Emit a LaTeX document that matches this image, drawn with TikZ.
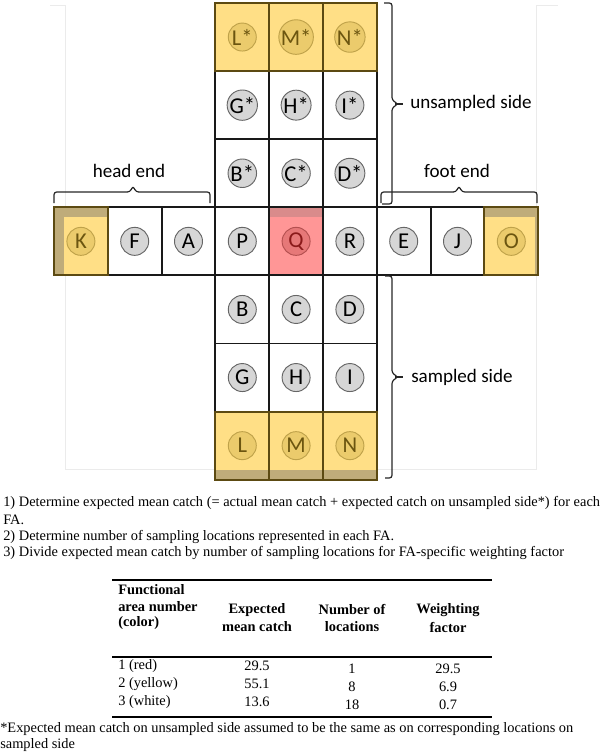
\documentclass[tikz,border=0pt]{standalone}
\usepackage{fontspec}
\setmainfont{Liberation Serif}
\newfontfamily\calfont{Carlito}
\definecolor{yel}{HTML}{FFDF86}
\definecolor{yband}{HTML}{BFAC7A}
\definecolor{pinkq}{HTML}{FF9696}
\definecolor{pband}{HTML}{D98B8B}
\definecolor{olive}{HTML}{5C4A12}
\definecolor{ydot}{HTML}{EBCB6C}
\definecolor{ydotedge}{HTML}{BFA24A}
\definecolor{ytext}{HTML}{6B5510}
\definecolor{pdot}{HTML}{E67878}
\definecolor{pdotedge}{HTML}{B45050}
\definecolor{ptext}{HTML}{8A1A1A}
\definecolor{gdot}{HTML}{D6D6D6}
\definecolor{gdotedge}{HTML}{666666}
\definecolor{framegray}{HTML}{EBEBEB}
\begin{document}
\begin{tikzpicture}[x=0.75pt,y=-0.75pt,
  cellbox/.style={rectangle, minimum width=40.35pt, minimum height=51.075pt, inner sep=0pt, outer sep=0pt},
  wcell/.style={cellbox, fill=white},
  ycell/.style={cellbox, fill=yel},
  qcell/.style={cellbox, fill=pinkq},
  dotbase/.style={circle, minimum size=21pt, inner sep=0pt, line width=0.7pt, font=\calfont\fontsize{17}{18}\selectfont},
  gdotn/.style={dotbase, fill=gdot, draw=gdotedge, text=black},
  ydotn/.style={dotbase, fill=ydot, draw=ydotedge, text=ytext},
  pdotn/.style={dotbase, fill=pdot, draw=pdotedge, text=ptext},
  gridline/.style={draw=black!90, line width=1.4pt},
  oliveline/.style={draw=olive, line width=1.4pt},
  bracel/.style={draw=black!85, line width=0.9pt, rounded corners=2pt},
  lbl/.style={font=\calfont\fontsize{14.3}{16}\selectfont, inner sep=0pt},
  body/.style={font=\fontsize{10.8}{12}\selectfont, inner sep=0pt, anchor=west},
  thead/.style={font=\bfseries\fontsize{10.8}{12}\selectfont, inner sep=0pt},
  tcell/.style={font=\fontsize{10.8}{12}\selectfont, inner sep=0pt},
  trule/.style={draw=black, line width=1.1pt}
]
\useasboundingbox (0,0) rectangle (600,753);
% light frame
\draw[framegray, line width=0.7pt] (50,5) -- (65,5) -- (65,469) -- (536,469) -- (536,5) -- (558,5);
% cells
\foreach \n/\c/\r/\s in {Ls/3/0/ycell, Ms/4/0/ycell, Ns/5/0/ycell, Gs/3/1/wcell, Hs/4/1/wcell, Is/5/1/wcell, Bs/3/2/wcell, Cs/4/2/wcell, Ds/5/2/wcell, K/0/3/ycell, F/1/3/wcell, A/2/3/wcell, P/3/3/wcell, Q/4/3/qcell, R/5/3/wcell, E/6/3/wcell, J/7/3/wcell, O/8/3/ycell, B/3/4/wcell, C/4/4/wcell, D/5/4/wcell, G/3/5/wcell, H/4/5/wcell, I/5/5/wcell, L/3/6/ycell, M/4/6/ycell, N/5/6/ycell}
  \node[\s] (cell-\n) at ({54+53.8*(\c+0.5)},{3+68.1*(\r+0.5)}) {};
% shaded bands
\fill[yband] (cell-K.north west) rectangle ([yshift=-7.5pt]cell-K.north east);
\fill[yband] ([yshift=-7.5pt]cell-K.north west) rectangle ([xshift=7.5pt]cell-K.south west);
\fill[yband] (cell-O.north west) rectangle ([yshift=-7.5pt]cell-O.north east);
\fill[yband] ([yshift=-7.5pt,xshift=-2.2pt]cell-O.north east) rectangle (cell-O.south east);
\fill[pband] (cell-Q.north west) rectangle ([yshift=-7.5pt]cell-Q.north east);
\foreach \n in {L,M,N}
  \fill[yband] ([yshift=7.5pt]cell-\n.south west) rectangle (cell-\n.south east);
% borders
\foreach \n in {Gs,Hs,Is,Bs,Cs,Ds,F,A,P,Q,R,E,J,B,C,D,G,H,I}
  \draw[gridline] (cell-\n.north west) rectangle (cell-\n.south east);
\foreach \n in {Ls,Ms,Ns,K,O,L,M,N}
  \draw[oliveline] (cell-\n.north west) rectangle (cell-\n.south east);
% circles
\foreach \n/\t/\s in {Ls/L*/ydotn, Ms/M*/ydotn, Ns/N*/ydotn, Gs/G*/gdotn, Hs/H*/gdotn, Is/I*/gdotn, Bs/B*/gdotn, Cs/C*/gdotn, Ds/D*/gdotn, K/K/ydotn, F/F/gdotn, A/A/gdotn, P/P/gdotn, Q/Q/pdotn, R/R/gdotn, E/E/gdotn, J/J/gdotn, O/O/ydotn, B/B/gdotn, C/C/gdotn, D/D/gdotn, G/G/gdotn, H/H/gdotn, I/I/gdotn, L/L/ydotn, M/M/ydotn, N/N/ydotn}
  \node[\s] (dot-\n) at (cell-\n) {\t};
% braces
\draw[bracel] (54,203) -- (54,192) -- (130,192) -- (133,186) -- (136,192) -- (210,192) -- (210,203);
\draw[bracel] (381,203) -- (381,192) -- (456,192) -- (459,186) -- (462,192) -- (537,192) -- (537,203);
\draw[bracel] (384,3) -- (392,3) -- (392,100) -- (398,104) -- (392,108) -- (392,204) -- (382,204);
\draw[bracel] (395,104) -- (403,104);
\draw[bracel] (385,276) -- (392,276) -- (392,373) -- (398,377) -- (392,381) -- (392,478) -- (385,478);
\draw[bracel] (395,377) -- (403,377);
% labels
\node[lbl, anchor=west] (l-uns) at (410,103) {unsampled side};
\node[lbl, anchor=west] (l-samp) at (411,377) {sampled side};
\node[lbl] (l-head) at (129,171) {head end};
\node[lbl] (l-foot) at (457,171) {foot end};
% text
\node[body] (t1) at (3,503) {1) Determine expected mean catch (= actual mean catch + expected catch on unsampled side*) for each};
\node[body] (t1b) at (3,520) {FA.};
\node[body] (t2) at (3,537) {2) Determine number of sampling locations represented in each FA.};
\node[body] (t3) at (3,553) {3) Divide expected mean catch by number of sampling locations for FA-specific weighting factor};
% table
\coordinate (r1a) at (112,580); \coordinate (r1b) at (492,580);
\coordinate (r2a) at (112,657); \coordinate (r2b) at (492,657);
\coordinate (r3a) at (112,717); \coordinate (r3b) at (492,717);
\draw[trule] (r1a) -- (r1b);
\draw[trule] (r2a) -- (r2b);
\draw[trule] (r3a) -- (r3b);
\node[thead, anchor=west] (h1a) at (118,590) {Functional};
\node[thead, anchor=west] (h1b) at (118,607) {area number};
\node[thead, anchor=west] (h1c) at (118,623) {(color)};
\node[thead] (h2a) at (257,610) {Expected};
\node[thead] (h2b) at (257,627) {mean catch};
\node[thead] (h3a) at (352,610) {Number of};
\node[thead] (h3b) at (352,627) {locations};
\node[thead] (h4a) at (448,610) {Weighting};
\node[thead] (h4b) at (448,627) {factor};
\node[tcell, anchor=west] (c11) at (118,666) {1 (red)};
\node[tcell, anchor=west] (c21) at (118,684) {2 (yellow)};
\node[tcell, anchor=west] (c31) at (118,702) {3 (white)};
\node[tcell] (c12) at (257,666) {29.5};
\node[tcell] (c22) at (257,684) {55.1};
\node[tcell] (c32) at (257,702) {13.6};
\node[tcell] (c13) at (352,669) {1};
\node[tcell] (c23) at (352,687) {8};
\node[tcell] (c33) at (352,705) {18};
\node[tcell] (c14) at (448,669) {29.5};
\node[tcell] (c24) at (448,687) {6.9};
\node[tcell] (c34) at (448,705) {0.7};
% footnote
\node[body] (fn1) at (0,729) {*Expected mean catch on unsampled side assumed to be the same as on corresponding locations on};
\node[body] (fn2) at (0,745) {sampled side};
\end{tikzpicture}
\end{document}
